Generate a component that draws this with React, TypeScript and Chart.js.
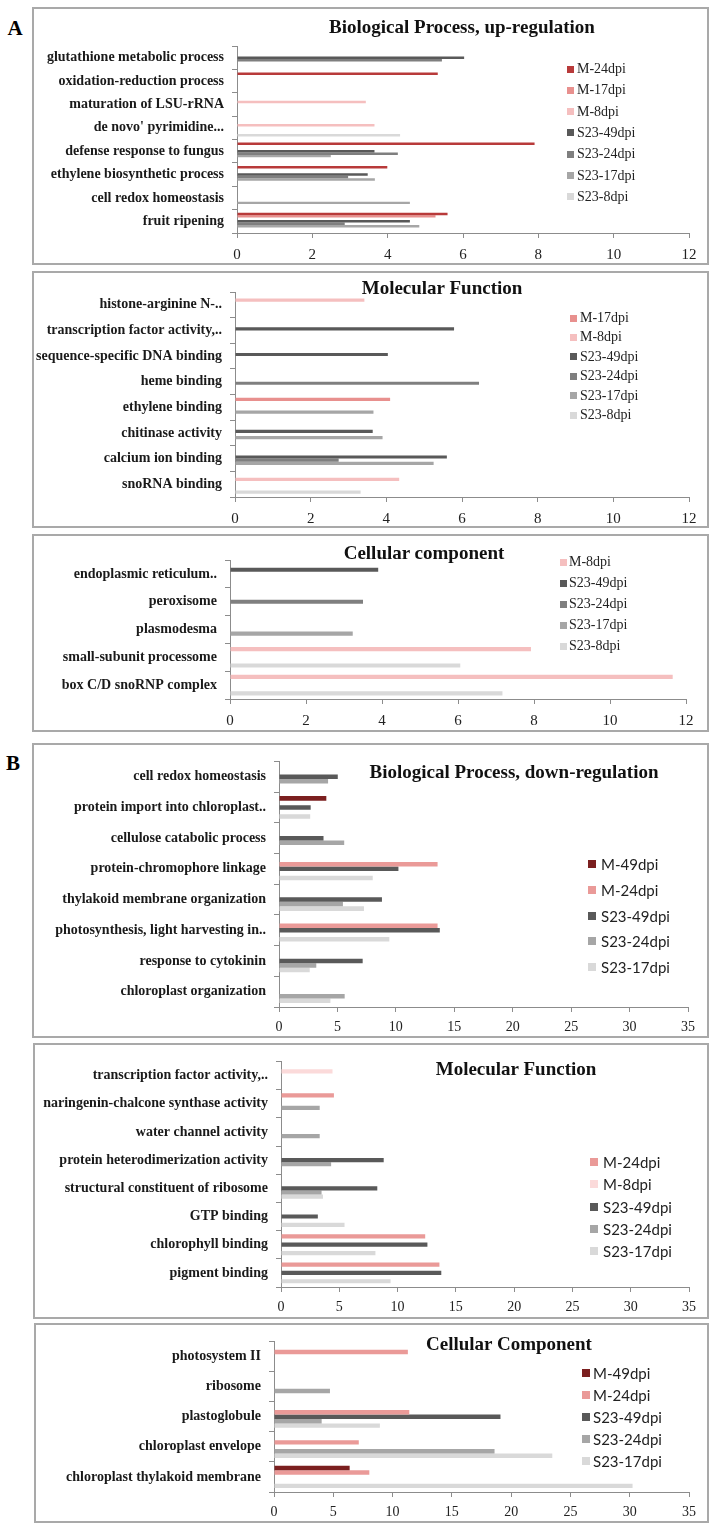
import React, { useEffect, useRef } from "react";
import { Chart, registerables } from "chart.js";
Chart.register(...registerables);

// ---------------- DATA ----------------
// A — Biological Process, up-regulation
const bpUpCategories = [
  "glutathione metabolic process",
  "oxidation-reduction process",
  "maturation of LSU-rRNA",
  "de novo' pyrimidine...",
  "defense response to fungus",
  "ethylene biosynthetic process",
  "cell redox homeostasis",
  "fruit ripening",
];
const bpUpM24 = [null, 5.33, null, null, 7.9, 3.99, null, 5.59];
const bpUpM17 = [null, null, null, null, null, null, null, 5.27];
const bpUpM8 = [null, null, 3.42, 3.65, null, null, null, null];
const bpUpS49 = [6.03, null, null, null, 3.65, 3.47, null, 4.59];
const bpUpS24 = [5.44, null, null, null, 4.27, 2.95, null, 2.86];
const bpUpS17 = [null, null, null, null, 2.49, 3.66, 4.59, 4.84];
const bpUpS8 = [null, null, null, 4.33, null, null, null, null];

// A — Molecular Function
const mfUpCategories = [
  "histone-arginine N-..",
  "transcription factor activity,..",
  "sequence-specific DNA binding",
  "heme binding",
  "ethylene binding",
  "chitinase activity",
  "calcium ion binding",
  "snoRNA binding",
];
const mfUpM17 = [null, null, null, null, 4.1, null, null, null];
const mfUpM8 = [3.42, null, null, null, null, null, null, 4.34];
const mfUpS49 = [null, 5.79, 4.04, null, null, 3.64, 5.6, null];
const mfUpS24 = [null, null, null, 6.45, null, null, 2.74, null];
const mfUpS17 = [null, null, null, null, 3.66, 3.9, 5.25, null];
const mfUpS8 = [null, null, null, null, null, null, null, 3.32];

// A — Cellular component
const ccUpCategories = [
  "endoplasmic reticulum..",
  "peroxisome",
  "plasmodesma",
  "small-subunit processome",
  "box C/D snoRNP complex",
];
const ccUpM8 = [null, null, null, 7.92, 11.65];
const ccUpS49 = [3.9, null, null, null, null];
const ccUpS24 = [null, 3.5, null, null, null];
const ccUpS17 = [null, null, 3.23, null, null];
const ccUpS8 = [null, null, null, 6.06, 7.17];

// B — Biological Process, down-regulation
const bpDownCategories = [
  "cell redox homeostasis",
  "protein import into chloroplast..",
  "cellulose catabolic process",
  "protein-chromophore linkage",
  "thylakoid membrane organization",
  "photosynthesis, light harvesting in..",
  "response to cytokinin",
  "chloroplast organization",
];
const bpDownM49 = [null, 4.05, null, null, null, null, null, null];
const bpDownM24 = [null, null, null, 13.57, null, 13.57, null, null];
const bpDownS49 = [5.03, 2.71, 3.81, 10.22, 8.81, 13.76, 7.16, null];
const bpDownS24 = [4.2, null, 5.58, null, 5.47, null, 3.19, 5.62];
const bpDownS17 = [null, 2.67, null, 8.02, 7.27, 9.44, 2.63, 4.4];

// B — Molecular Function
const mfDownCategories = [
  "transcription factor activity,..",
  "naringenin-chalcone synthase activity",
  "water channel activity",
  "protein heterodimerization activity",
  "structural constituent of ribosome",
  "GTP binding",
  "chlorophyll binding",
  "pigment binding",
];
const mfDownM24 = [null, 4.54, null, null, null, null, 12.37, 13.59];
const mfDownM8 = [4.42, null, null, null, null, null, null, null];
const mfDownS49 = [null, null, null, 8.81, 8.26, 3.16, 12.56, 13.75];
const mfDownS24 = [null, 3.32, 3.32, 4.3, 3.48, null, null, null];
const mfDownS17 = [null, null, null, null, 3.6, 5.45, 8.1, 9.4];

// B — Cellular Component
const ccDownCategories = [
  "photosystem II",
  "ribosome",
  "plastoglobule",
  "chloroplast envelope",
  "chloroplast thylakoid membrane",
];
const ccDownM49 = [null, null, null, null, 6.38];
const ccDownM24 = [11.29, null, 11.41, 7.15, 8.04];
const ccDownS49 = [null, null, 19.1, null, null];
const ccDownS24 = [null, 4.72, 4.02, 18.6, null];
const ccDownS17 = [null, null, 8.93, 23.47, 30.24];

const axisMaxA = 12;
const axisStepA = 2;
const axisMaxB = 35;
const axisStepB = 5;

// ---------------- STYLE ----------------
const SERIF = "'Liberation Serif', 'Times New Roman', serif";
const SANS = "Lato, 'Liberation Sans', sans-serif";

const C = {
  mRedA: "#b83a3a",
  m17: "#e8908e",
  m8: "#f5bfbf",
  m8B: "#fbdada",
  m49: "#7b1f1f",
  m24B: "#ea9a98",
  g49: "#595959",
  g24A: "#7f7f7f",
  g17A: "#a6a6a6",
  g8A: "#d9d9d9",
  g24B: "#a6a6a6",
  g17B: "#d9d9d9",
};

type Series = { label: string; color: string; data: (number | null)[] };
type Spec = {
  title: string;
  titleX: number;
  titleY: number;
  categories: string[];
  series: Series[];
  max: number;
  step: number;
  box: { l: number; t: number; r: number; b: number };
  area: { x0: number; x1: number; y0: number; y1: number };
  tickFont: number;
  tickPad: number;
  legend: { sq: number; tx: number; y0: number; dy: number; font: string; size: number; sqSize: number };
};

const panels: Spec[] = [
  {
    title: "Biological Process, up-regulation",
    titleX: 462,
    titleY: 27,
    categories: bpUpCategories,
    series: [
      { label: "M-24dpi", color: C.mRedA, data: bpUpM24 },
      { label: "M-17dpi", color: C.m17, data: bpUpM17 },
      { label: "M-8dpi", color: C.m8, data: bpUpM8 },
      { label: "S23-49dpi", color: C.g49, data: bpUpS49 },
      { label: "S23-24dpi", color: C.g24A, data: bpUpS24 },
      { label: "S23-17dpi", color: C.g17A, data: bpUpS17 },
      { label: "S23-8dpi", color: C.g8A, data: bpUpS8 },
    ],
    max: axisMaxA,
    step: axisStepA,
    box: { l: 32, t: 7, r: 709, b: 265 },
    area: { x0: 237, x1: 689, y0: 46, y1: 233 },
    tickFont: 15,
    tickPad: 8,
    legend: { sq: 567, tx: 577, y0: 69, dy: 21.3, font: SERIF, size: 14, sqSize: 7 },
  },
  {
    title: "Molecular Function",
    titleX: 442,
    titleY: 288,
    categories: mfUpCategories,
    series: [
      { label: "M-17dpi", color: C.m17, data: mfUpM17 },
      { label: "M-8dpi", color: C.m8, data: mfUpM8 },
      { label: "S23-49dpi", color: C.g49, data: mfUpS49 },
      { label: "S23-24dpi", color: C.g24A, data: mfUpS24 },
      { label: "S23-17dpi", color: C.g17A, data: mfUpS17 },
      { label: "S23-8dpi", color: C.g8A, data: mfUpS8 },
    ],
    max: axisMaxA,
    step: axisStepA,
    box: { l: 32, t: 271, r: 709, b: 528 },
    area: { x0: 235, x1: 689, y0: 292, y1: 497 },
    tickFont: 15,
    tickPad: 8,
    legend: { sq: 570, tx: 580, y0: 318, dy: 19.4, font: SERIF, size: 14, sqSize: 7 },
  },
  {
    title: "Cellular component",
    titleX: 424,
    titleY: 553,
    categories: ccUpCategories,
    series: [
      { label: "M-8dpi", color: C.m8, data: ccUpM8 },
      { label: "S23-49dpi", color: C.g49, data: ccUpS49 },
      { label: "S23-24dpi", color: C.g24A, data: ccUpS24 },
      { label: "S23-17dpi", color: C.g17A, data: ccUpS17 },
      { label: "S23-8dpi", color: C.g8A, data: ccUpS8 },
    ],
    max: axisMaxA,
    step: axisStepA,
    box: { l: 32, t: 534, r: 709, b: 732 },
    area: { x0: 230, x1: 686, y0: 560, y1: 699 },
    tickFont: 15,
    tickPad: 8,
    legend: { sq: 560, tx: 569, y0: 562, dy: 21, font: SERIF, size: 14, sqSize: 7 },
  },
  {
    title: "Biological Process, down-regulation",
    titleX: 514,
    titleY: 772,
    categories: bpDownCategories,
    series: [
      { label: "M-49dpi", color: C.m49, data: bpDownM49 },
      { label: "M-24dpi", color: C.m24B, data: bpDownM24 },
      { label: "S23-49dpi", color: C.g49, data: bpDownS49 },
      { label: "S23-24dpi", color: C.g24B, data: bpDownS24 },
      { label: "S23-17dpi", color: C.g17B, data: bpDownS17 },
    ],
    max: axisMaxB,
    step: axisStepB,
    box: { l: 32, t: 743, r: 709, b: 1038 },
    area: { x0: 279, x1: 688, y0: 758, y1: 1007 },
    tickFont: 14,
    tickPad: 7,
    legend: { sq: 588, tx: 601, y0: 864, dy: 25.8, font: SANS, size: 15, sqSize: 8 },
  },
  {
    title: "Molecular Function",
    titleX: 516,
    titleY: 1069,
    categories: mfDownCategories,
    series: [
      { label: "M-24dpi", color: C.m24B, data: mfDownM24 },
      { label: "M-8dpi", color: C.m8B, data: mfDownM8 },
      { label: "S23-49dpi", color: C.g49, data: mfDownS49 },
      { label: "S23-24dpi", color: C.g24B, data: mfDownS24 },
      { label: "S23-17dpi", color: C.g17B, data: mfDownS17 },
    ],
    max: axisMaxB,
    step: axisStepB,
    box: { l: 33, t: 1043, r: 709, b: 1319 },
    area: { x0: 281, x1: 689, y0: 1057, y1: 1287 },
    tickFont: 14,
    tickPad: 7,
    legend: { sq: 590, tx: 603, y0: 1162, dy: 22.3, font: SANS, size: 15, sqSize: 8 },
  },
  {
    title: "Cellular Component",
    titleX: 509,
    titleY: 1344,
    categories: ccDownCategories,
    series: [
      { label: "M-49dpi", color: C.m49, data: ccDownM49 },
      { label: "M-24dpi", color: C.m24B, data: ccDownM24 },
      { label: "S23-49dpi", color: C.g49, data: ccDownS49 },
      { label: "S23-24dpi", color: C.g24B, data: ccDownS24 },
      { label: "S23-17dpi", color: C.g17B, data: ccDownS17 },
    ],
    max: axisMaxB,
    step: axisStepB,
    box: { l: 34, t: 1323, r: 709, b: 1523 },
    area: { x0: 274, x1: 689, y0: 1338, y1: 1492 },
    tickFont: 14,
    tickPad: 7,
    legend: { sq: 582, tx: 593, y0: 1373, dy: 22, font: SANS, size: 15, sqSize: 8 },
  },
];

function Panel({ spec }: { spec: Spec }) {
  const ref = useRef<HTMLCanvasElement>(null);
  const cl = spec.box.l + 2;
  const ct = spec.box.t + 2;
  const cw = spec.box.r - spec.box.l - 4;
  const ch = spec.box.b - spec.box.t - 4;

  useEffect(() => {
    const cv = ref.current;
    if (!cv) return;
    const yAxisW = spec.area.x0 - cl;
    const padTop = spec.area.y0 - ct;
    const padRight = cl + cw - spec.area.x1;
    const xAxisH = ct + ch - spec.area.y1;
    const chart = new Chart(cv, {
      type: "bar",
      data: {
        labels: spec.categories,
        datasets: spec.series.map((s) => ({
          label: s.label,
          data: s.data,
          backgroundColor: s.color,
          borderWidth: 0,
          categoryPercentage: 0.74,
          barPercentage: 1,
        })),
      },
      options: {
        indexAxis: "y",
        responsive: false,
        maintainAspectRatio: false,
        animation: false,
        devicePixelRatio: 1,
        layout: { padding: { top: padTop, right: padRight, left: 0, bottom: 0 } },
        plugins: {
          legend: { display: false },
          tooltip: { enabled: false },
          title: { display: false },
        },
        scales: {
          x: {
            min: 0,
            max: spec.max,
            ticks: {
              stepSize: spec.step,
              font: { family: SERIF, size: spec.tickFont },
              color: "#222",
              padding: spec.tickPad,
              maxRotation: 0,
            },
            grid: { drawOnChartArea: false, drawTicks: true, tickLength: 5, color: "#8c8c8c" },
            border: { color: "#8c8c8c", width: 1 },
            afterFit: (s: any) => {
              s.height = xAxisH;
            },
          },
          y: {
            ticks: {
              font: { family: SERIF, size: 14, weight: "bold" },
              color: "#1a1a1a",
              padding: 8,
              autoSkip: false,
            },
            grid: { drawOnChartArea: false, drawTicks: true, tickLength: 5, color: "#8c8c8c", offset: true },
            border: { color: "#8c8c8c", width: 1 },
            afterFit: (s: any) => {
              s.width = yAxisW;
            },
          },
        },
      } as any,
    });
    return () => chart.destroy();
  }, []);

  const lg = spec.legend;
  return (
    <>
      <div
        style={{
          position: "absolute",
          left: spec.box.l,
          top: spec.box.t,
          width: spec.box.r - spec.box.l,
          height: spec.box.b - spec.box.t,
          boxSizing: "border-box",
          border: "2px solid #a9a9a9",
        }}
      />
      <canvas
        ref={ref}
        width={cw}
        height={ch}
        style={{ position: "absolute", left: cl, top: ct, width: cw, height: ch }}
      />
      <div
        style={{
          position: "absolute",
          left: spec.titleX,
          top: spec.titleY - 12,
          transform: "translateX(-50%)",
          fontFamily: SERIF,
          fontWeight: "bold",
          fontSize: 19,
          lineHeight: "24px",
          whiteSpace: "nowrap",
          color: "#111",
        }}
      >
        {spec.title}
      </div>
      {spec.series.map((s, i) => {
        const cy = lg.y0 + i * lg.dy;
        return (
          <React.Fragment key={s.label}>
            <div
              style={{
                position: "absolute",
                left: lg.sq,
                top: cy - lg.sqSize / 2,
                width: lg.sqSize,
                height: lg.sqSize,
                background: s.color,
              }}
            />
            <div
              style={{
                position: "absolute",
                left: lg.tx,
                top: cy - 10,
                height: 20,
                lineHeight: "20px",
                fontFamily: lg.font,
                fontSize: lg.size,
                color: "#222",
                whiteSpace: "nowrap",
              }}
            >
              {s.label}
            </div>
          </React.Fragment>
        );
      })}
    </>
  );
}

export default function App() {
  return (
    <div
      style={{
        position: "absolute",
        left: 0,
        top: 0,
        width: 715,
        height: 1533,
        background: "#fff",
        overflow: "hidden",
      }}
    >
      <div
        style={{
          position: "absolute",
          left: 15,
          top: 28 - 14,
          transform: "translateX(-50%)",
          fontFamily: SERIF,
          fontWeight: "bold",
          fontSize: 21,
          lineHeight: "28px",
        }}
      >
        A
      </div>
      <div
        style={{
          position: "absolute",
          left: 13,
          top: 763 - 14,
          transform: "translateX(-50%)",
          fontFamily: SERIF,
          fontWeight: "bold",
          fontSize: 21,
          lineHeight: "28px",
        }}
      >
        B
      </div>
      {panels.map((p, i) => (
        <Panel key={i} spec={p} />
      ))}
    </div>
  );
}
